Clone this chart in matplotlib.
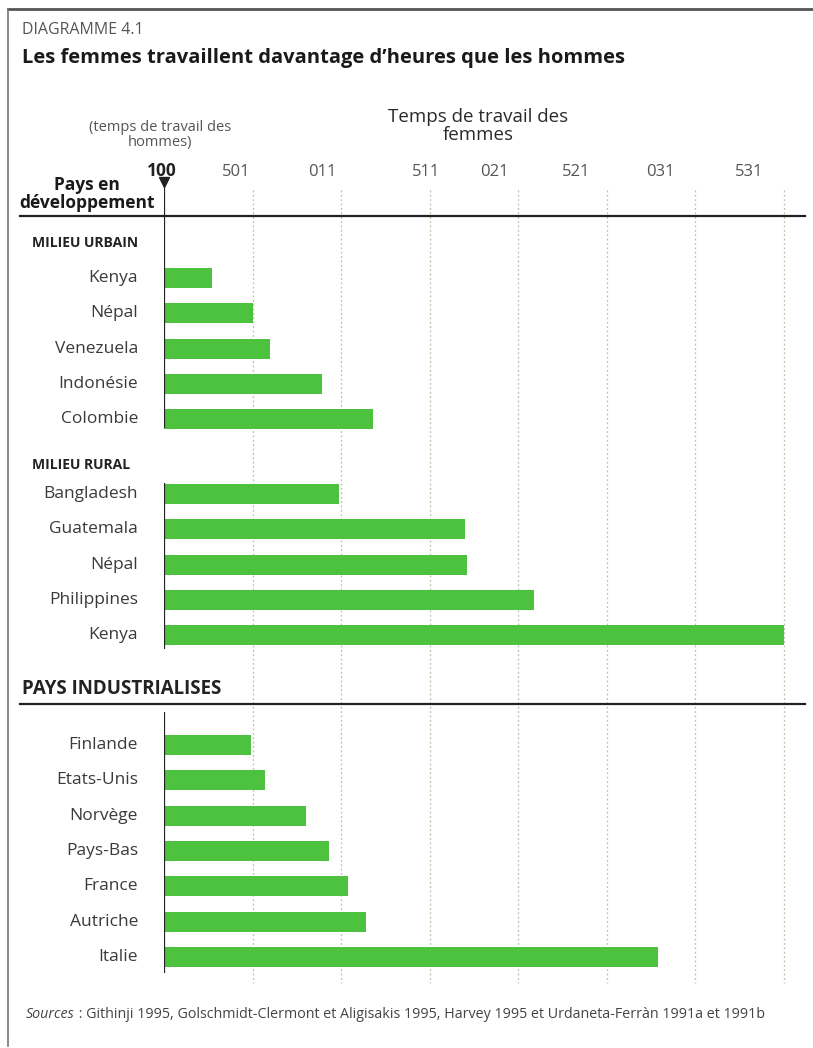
import matplotlib.pyplot as plt
from matplotlib.lines import Line2D

# Data: women's working time relative to men (men = 100)
urban_countries = ['Kenya', 'Népal', 'Venezuela', 'Indonésie', 'Colombie']
urban_values = [102.7, 105.0, 106.0, 108.9, 111.8]

rural_countries = ['Bangladesh', 'Guatemala', 'Népal', 'Philippines', 'Kenya']
rural_values = [109.9, 117.0, 117.1, 120.9, 135.0]

ind_countries = ['Finlande', 'Etats-Unis', 'Norvège', 'Pays-Bas', 'France', 'Autriche', 'Italie']
ind_values = [104.9, 105.7, 108.0, 109.3, 110.4, 111.4, 127.9]

tick_values = [105, 110, 115, 120, 125, 130, 135]
tick_labels = ['501', '011', '511', '021', '521', '031', '531']  # as printed (mirrored)

W, H = 813, 1048
plt.rcParams['font.family'] = ['Open Sans', 'DejaVu Sans']

fig = plt.figure(figsize=(W / 100, H / 100), dpi=100)


def fx(px):
    return px / W


def fy(py):
    return 1 - py / H


GREEN = '#4cc23e'
TXT = '#3a3a3a'

# main axes: x in value units, y in pixel rows (top down)
x0_px, x1_px = 164, 805
px_per_unit = 17.7
ax = fig.add_axes([fx(x0_px), fy(1000), (x1_px - x0_px) / W, (1000 - 175) / H])
ax.set_xlim(100, 100 + (x1_px - x0_px) / px_per_unit)
ax.set_ylim(1000, 175)
ax.axis('off')

# dotted grid
for t in tick_values:
    ax.plot([t, t], [190, 983], color='#b5c4a6', lw=0.9, ls=(0, (1.5, 2)), zorder=0)

bar_h = 20
step = 35.3
groups = [
    (urban_countries, urban_values, 278),
    (rural_countries, rural_values, 494),
    (ind_countries, ind_values, 745),
]
for names, vals, y_start in groups:
    ys = [y_start + i * step for i in range(len(names))]
    ax.barh(ys, [v - 100 for v in vals], left=100, height=bar_h, color=GREEN, zorder=2)
    for y, n in zip(ys, names):
        fig.text(fx(138), fy(y), n, ha='right', va='center', fontsize=12.5, color=TXT)

# vertical "100" axis segments
for ya, yb in [(186, 428), (483, 649), (712, 973)]:
    ax.plot([100, 100], [ya, yb], color='#222222', lw=1.6, zorder=3, solid_capstyle='butt')
ax.plot([100], [182], marker='v', color='#222222', markersize=7, zorder=4, clip_on=False)

# horizontal rules
for y in [216, 704]:
    fig.add_artist(Line2D([fx(20), fx(805)], [fy(y), fy(y)], color='#222222', lw=1.6))

# frame
fig.add_artist(Line2D([fx(8), fx(813)], [fy(9), fy(9)], color='#555555', lw=2))
fig.add_artist(Line2D([fx(8), fx(8)], [fy(9), fy(1046)], color='#777777', lw=1.2))

# tick labels (printed slightly left of their gridlines)
label_shift = [-16, -19, -3, -24, -30, -35, -34]
for t, lab, dx in zip(tick_values, tick_labels, label_shift):
    xp = x0_px + (t - 100) * px_per_unit
    fig.text(fx(xp + dx), fy(172), lab, ha='center', va='center', fontsize=12, color='#555555')
fig.text(fx(162), fy(171), '100', ha='center', va='center', fontsize=12.5, fontweight='bold', color='#222222')

# headings
fig.text(fx(22), fy(30), 'DIAGRAMME 4.1', ha='left', va='center', fontsize=11.5, color='#555555')
fig.text(fx(22), fy(58), 'Les femmes travaillent davantage d\u2019heures que les hommes',
         ha='left', va='center', fontsize=14.5, fontweight='bold', color='#1a1a1a')
fig.text(fx(160), fy(135), '(temps de travail des\nhommes)', ha='center', va='center',
         fontsize=10.5, color='#555555', linespacing=0.95)
fig.text(fx(478), fy(126), 'Temps de travail des\nfemmes', ha='center', va='center',
         fontsize=13.5, color='#2a2a2a', linespacing=1.05)
fig.text(fx(155), fy(194), 'Pays en\ndéveloppement', ha='right', va='center',
         fontsize=12.5, fontweight='bold', color='#1a1a1a', linespacing=0.95, multialignment='center')

fig.text(fx(32), fy(243), 'MILIEU URBAIN', ha='left', va='center', fontsize=10, fontweight='bold', color='#222222')
fig.text(fx(32), fy(465), 'MILIEU RURAL', ha='left', va='center', fontsize=10, fontweight='bold', color='#222222')
fig.text(fx(22), fy(689), 'PAYS INDUSTRIALISES', ha='left', va='center', fontsize=13.5, fontweight='bold', color='#222222')

# sources
t1 = fig.text(fx(26), fy(1015), 'Sources', ha='left', va='center', fontsize=10.3, style='italic', color='#444444')
fig.canvas.draw()
bb = t1.get_window_extent()
fig.text(bb.x1 / W, fy(1015),
         ' : Githinji 1995, Golschmidt-Clermont et Aligisakis 1995, Harvey 1995 et Urdaneta-Ferràn 1991a et 1991b',
         ha='left', va='center', fontsize=10.3, color='#444444')

fig.savefig('out.png', dpi=100, facecolor='white')
